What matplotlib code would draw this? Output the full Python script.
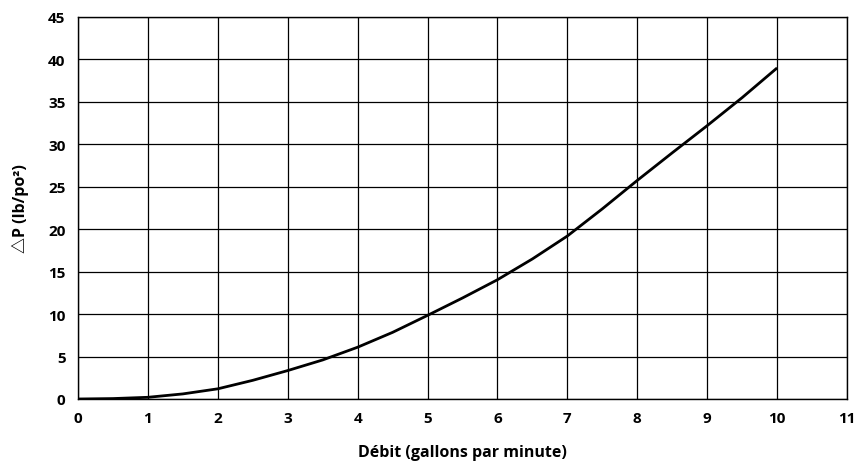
import numpy as np
import matplotlib.pyplot as plt

plt.rcParams['font.family'] = ['Open Sans', 'Noto Sans CJK KR', 'DejaVu Sans']

# Débit (gpm) et perte de charge
debit = [0, 0.5, 1, 1.5, 2, 2.5, 3, 3.5, 4, 4.5, 5,
         5.5, 6, 6.5, 7, 7.5, 8, 8.5, 9, 9.5, 10]
delta_p = [0, 0.05, 0.2, 0.6, 1.2, 2.2, 3.35, 4.6, 6.1, 7.85, 9.85,
           11.9, 14.05, 16.5, 19.2, 22.4, 25.75, 29.0, 32.2, 35.5, 39.0]

x_ticks = list(range(0, 12))
y_ticks = list(range(0, 50, 5))

fig = plt.figure(figsize=(8.58, 4.64), dpi=100)
ax = fig.add_axes([78 / 858, 1 - 400 / 464, (847 - 78) / 858, (400 - 18) / 464])

ax.plot(debit, delta_p, color="black", linewidth=2, solid_capstyle="butt",
        solid_joinstyle="round", zorder=3)

ax.set_xlim(0, 11)
ax.set_ylim(0, 45)
ax.set_xticks(x_ticks)
ax.set_yticks(y_ticks)
ax.grid(True, color="black", linewidth=0.9)
ax.set_axisbelow(True)
for s in ax.spines.values():
    s.set_color("black")
    s.set_linewidth(1.0)

ax.tick_params(length=0, pad=9, labelsize=11)
for lab in ax.get_xticklabels() + ax.get_yticklabels():
    lab.set_fontweight("bold")

ax.set_xlabel("Débit (gallons par minute)", fontsize=11.5, fontweight="bold", labelpad=13)
ax.set_ylabel("△P (lb/po²)", fontsize=11.5, fontweight="bold", labelpad=14)

fig.savefig("out.png", dpi=100)
